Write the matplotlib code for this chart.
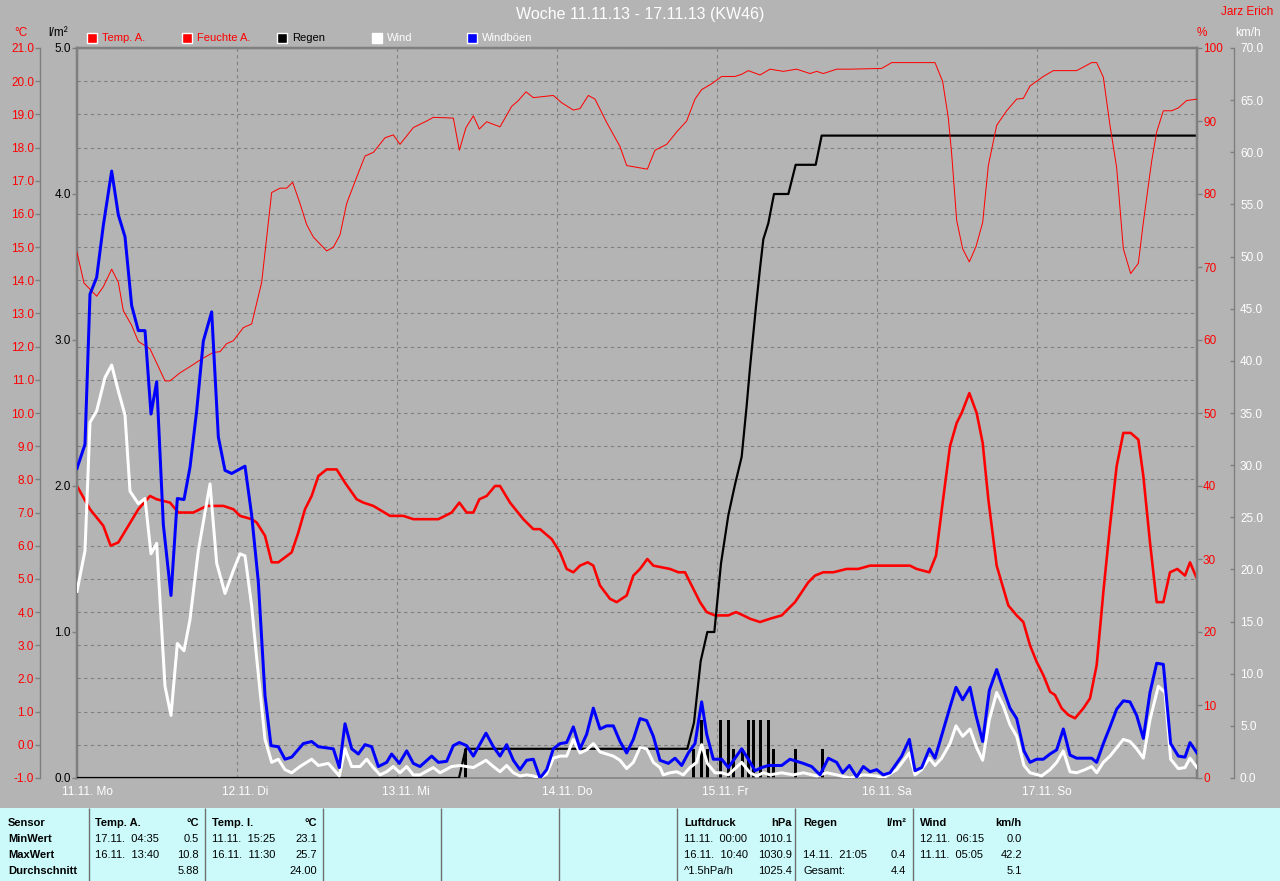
import matplotlib
matplotlib.use('Agg')
import matplotlib.pyplot as plt
import matplotlib.transforms as mtransforms
from matplotlib.patches import Rectangle

plt.rcParams['font.family'] = ['Liberation Sans', 'DejaVu Sans']

BG = '#b4b4b4'
GRID = '#7f7f7f'
TABLE_BG = '#ccfafa'
FS = 8
TICK_FS = 8.5

# hours since 11.11. 00:00
day_hours = [0, 24, 48, 72, 96, 120, 144]
day_labels = ['11.11. Mo', '12.11. Di', '13.11. Mi', '14.11. Do', '15.11. Fr', '16.11. Sa', '17.11. So']

temp_pts = [(0, 7.8), (1.95, 7.1), (3.95, 6.6), (5.05, 6.0), (6.2, 6.1), (7.7, 6.6), (9.2, 7.1),
            (10.95, 7.5), (11.95, 7.4), (13.95, 7.3), (15.2, 7.0), (17.45, 7.0), (19.45, 7.2),
            (21.95, 7.2), (23.45, 7.1), (24.45, 6.9), (26.2, 6.8), (26.95, 6.7), (28.2, 6.3),
            (29.2, 5.5), (30.2, 5.5), (32.2, 5.8), (33.2, 6.4), (34.2, 7.1), (35.2, 7.5), (36.2, 8.1),
            (37.45, 8.3), (38.95, 8.3), (40.2, 7.9), (41.95, 7.4), (42.95, 7.3), (44.45, 7.2),
            (46.95, 6.9), (48.95, 6.9), (50.45, 6.8), (52.45, 6.8), (54.2, 6.8), (56.2, 7.0),
            (57.35, 7.3), (58.45, 7.0), (59.45, 7.0), (60.35, 7.4), (61.45, 7.5), (62.7, 7.8),
            (63.45, 7.8), (64.95, 7.3), (66.95, 6.8), (68.45, 6.5), (69.45, 6.5), (71.2, 6.2),
            (72.45, 5.8), (73.45, 5.3), (74.45, 5.2), (75.45, 5.4), (76.6, 5.5), (77.45, 5.4),
            (78.45, 4.8), (79.95, 4.4), (80.95, 4.3), (82.45, 4.5), (83.45, 5.1), (84.45, 5.3),
            (85.55, 5.6), (86.45, 5.4), (88.95, 5.3), (90.2, 5.2), (91.2, 5.2), (92.2, 4.8),
            (93.45, 4.3), (94.45, 4.0), (95.7, 3.9), (96.7, 3.9), (97.7, 3.9), (98.85, 4.0),
            (99.95, 3.9), (100.95, 3.8), (102.45, 3.7), (103.95, 3.8), (105.7, 3.9), (106.7, 4.1),
            (107.7, 4.3), (108.7, 4.6), (109.7, 4.9), (110.7, 5.1), (111.95, 5.2), (113.45, 5.2),
            (115.45, 5.3), (117.2, 5.3), (118.95, 5.4), (120.95, 5.4), (122.95, 5.4), (124.95, 5.4),
            (125.95, 5.3), (127.85, 5.2), (128.85, 5.7), (129.85, 7.3), (130.95, 9.0), (131.95, 9.7),
            (132.7, 10.0), (133.85, 10.6), (134.95, 10.0), (135.85, 9.1), (136.7, 7.4), (137.95, 5.4),
            (139.7, 4.2), (140.95, 3.9), (141.95, 3.7), (142.95, 3.0), (143.95, 2.5), (144.95, 2.1),
            (145.95, 1.6), (146.7, 1.5), (147.7, 1.1), (148.7, 0.9), (149.7, 0.8), (150.95, 1.1),
            (151.95, 1.4), (152.95, 2.4), (153.95, 4.6), (154.95, 6.6), (155.95, 8.4), (156.95, 9.4),
            (158.05, 9.4), (159.2, 9.2), (159.95, 8.1), (160.95, 6.1), (161.95, 4.3), (162.95, 4.3),
            (163.95, 5.2), (165.05, 5.3), (166.2, 5.1), (166.95, 5.5), (168, 5.0)]

hum_pts = [(0, 72.0), (1.05, 67.8), (2.95, 66.0), (3.95, 67.3), (5.2, 69.7), (6.2, 67.9), (6.95, 64.0),
           (8.2, 62.0), (9.2, 59.8), (10.95, 58.8), (13.2, 54.4), (13.95, 54.4), (15.45, 55.5),
           (17.2, 56.5), (18.7, 57.4), (20.45, 58.3), (21.45, 58.4), (22.45, 59.5), (23.45, 59.9),
           (24.95, 61.7), (26.2, 62.2), (27.7, 67.9), (29.2, 80.2), (30.45, 80.8), (31.45, 80.8),
           (32.35, 81.6), (33.45, 78.7), (34.45, 75.8), (35.45, 74.1), (37.45, 72.2), (38.45, 72.7),
           (39.45, 74.4), (40.45, 78.7), (41.95, 82.3), (43.2, 85.2), (44.45, 85.7), (46.2, 87.7),
           (47.45, 88.1), (48.45, 86.8), (50.45, 89.1), (52.45, 90.0), (53.45, 90.5), (56.45, 90.4),
           (57.35, 86.0), (58.35, 89.1), (59.45, 90.7), (60.35, 88.9), (61.45, 89.9), (63.45, 89.2),
           (65.2, 92.0), (66.2, 92.8), (67.35, 94.0), (68.45, 93.2), (71.45, 93.5), (72.7, 92.5),
           (74.45, 91.5), (75.45, 91.7), (76.7, 93.5), (77.7, 93.0), (79.45, 89.8), (81.45, 86.5),
           (82.45, 83.9), (85.55, 83.4), (86.7, 86.0), (88.45, 86.8), (89.95, 88.5), (91.45, 90.0),
           (92.7, 93.0), (93.7, 94.3), (95.2, 95.1), (96.7, 96.1), (98.7, 96.1), (99.7, 96.4),
           (100.7, 96.9), (102.45, 96.3), (103.95, 97.1), (105.95, 96.8), (107.95, 97.1),
           (109.95, 96.5), (110.95, 96.8), (111.95, 96.5), (113.95, 97.1), (115.95, 97.1),
           (120.7, 97.2), (122.2, 98.0), (128.7, 98.0), (129.85, 95.4), (130.7, 90.4), (131.2, 85.5),
           (131.95, 76.4), (132.85, 72.5), (133.85, 70.7), (134.85, 72.8), (135.85, 76.1),
           (136.7, 83.9), (137.95, 89.4), (139.45, 91.4), (140.95, 93.0), (141.95, 93.1),
           (142.95, 94.8), (144.95, 96.1), (146.45, 96.9), (149.95, 96.9), (152.2, 98.0),
           (152.95, 98.0), (153.95, 96.0), (154.95, 89.4), (155.95, 83.6), (156.95, 72.5),
           (158.05, 69.1), (159.2, 70.5), (159.95, 76.1), (161.2, 84.5), (161.95, 88.5),
           (162.95, 91.4), (164.2, 91.4), (165.2, 91.8), (166.45, 92.8), (168, 93.0)]

gust_pts = [(0, 29.7), (1.2, 32.0), (1.95, 46.4), (2.95, 48.0), (3.95, 53.0), (5.2, 58.2), (6.2, 54.0),
            (7.2, 51.9), (8.2, 45.3), (9.2, 42.9), (10.2, 42.9), (11.1, 34.9), (11.95, 38.0),
            (12.95, 24.3), (14.1, 17.5), (15.05, 26.8), (16.05, 26.7), (16.95, 29.8), (17.95, 35.2),
            (18.95, 41.9), (20.2, 44.7), (21.2, 32.7), (22.2, 29.5), (23.2, 29.2), (25.2, 29.9),
            (26.2, 25.2), (27.2, 18.8), (28.2, 7.9), (29.1, 3.1), (30.2, 3.0), (31.2, 1.8), (32.2, 2.0),
            (33.95, 3.3), (35.2, 3.5), (36.2, 3.0), (38.45, 2.8), (39.35, 1.0), (40.2, 5.2), (41.2, 2.8),
            (42.2, 2.3), (43.2, 3.2), (44.2, 3.0), (45.2, 1.1), (46.45, 1.5), (47.2, 2.3), (48.35, 1.4),
            (49.45, 2.6), (50.45, 1.4), (51.45, 1.1), (53.2, 2.1), (54.2, 1.5), (55.45, 1.6),
            (56.45, 3.1), (57.35, 3.4), (58.45, 3.1), (59.45, 2.1), (61.35, 4.3), (62.45, 3.0),
            (63.45, 2.1), (64.45, 3.2), (65.45, 1.7), (66.45, 0.8), (67.45, 1.7), (68.45, 1.8),
            (69.45, 0.0), (70.45, 0.8), (71.45, 2.8), (72.45, 3.3), (73.45, 3.4), (74.45, 4.9),
            (75.45, 2.8), (76.45, 4.2), (77.45, 6.7), (78.45, 4.7), (79.45, 5.0), (80.45, 5.0),
            (81.45, 3.5), (82.45, 2.4), (83.45, 3.7), (84.45, 5.7), (85.45, 5.5), (86.45, 4.0),
            (87.45, 1.7), (88.7, 1.4), (89.7, 1.9), (90.7, 1.2), (91.7, 2.4), (92.7, 3.3), (93.7, 7.3),
            (94.45, 4.2), (95.45, 1.8), (96.7, 1.8), (97.7, 1.0), (98.7, 1.9), (99.7, 2.8), (100.7, 1.8),
            (101.7, 0.7), (102.7, 1.0), (103.7, 1.2), (105.7, 1.2), (106.95, 1.8), (108.95, 1.4),
            (110.2, 1.1), (111.45, 0.3), (112.7, 1.9), (113.95, 1.5), (114.85, 0.5), (115.85, 1.2),
            (116.95, 0.1), (117.95, 1.1), (118.95, 0.6), (119.95, 0.8), (120.95, 0.3), (121.95, 0.5),
            (123.7, 2.1), (124.85, 3.7), (125.7, 0.7), (126.7, 1.0), (127.85, 2.8), (128.7, 1.9),
            (129.85, 4.4), (130.95, 6.8), (131.85, 8.7), (132.85, 7.5), (133.95, 8.7), (134.85, 6.0),
            (135.85, 3.5), (136.85, 8.4), (137.95, 10.4), (138.95, 8.5), (139.95, 6.7), (140.95, 5.7),
            (142.05, 2.6), (142.95, 1.5), (143.95, 1.8), (144.95, 1.8), (145.95, 2.3), (146.95, 2.7),
            (147.95, 4.7), (148.95, 2.2), (149.95, 1.9), (151.2, 1.9), (152.2, 1.9), (152.95, 1.5),
            (153.95, 3.3), (154.95, 4.9), (155.95, 6.6), (156.95, 7.4), (157.95, 7.3), (158.95, 6.0),
            (159.95, 3.8), (160.95, 8.2), (161.95, 11.0), (162.95, 10.9), (164.05, 3.3), (165.2, 2.1),
            (166.2, 2.0), (166.95, 3.4), (168, 2.4)]

wind_pts = [(0, 17.9), (1.2, 21.8), (1.95, 34.1), (2.95, 35.2), (4.2, 38.4), (5.2, 39.6), (6.2, 37.1),
            (7.2, 34.8), (7.95, 27.5), (9.2, 26.3), (10.2, 26.8), (11.1, 21.5), (11.95, 22.5),
            (12.7, 14.2), (13.2, 8.8), (14.1, 6.0), (15.05, 12.9), (16.05, 12.2), (16.95, 15.2),
            (18.2, 21.8), (19.95, 28.2), (20.95, 20.6), (22.2, 17.7), (23.45, 19.9), (24.45, 21.5),
            (25.2, 21.3), (26.2, 16.5), (26.95, 11.5), (28.2, 3.7), (29.2, 1.5), (30.2, 1.8),
            (31.2, 0.8), (32.2, 0.5), (33.45, 1.1), (35.2, 1.8), (36.2, 1.2), (37.7, 1.4), (39.35, 0.2),
            (40.2, 2.8), (41.2, 1.1), (42.45, 1.1), (43.45, 1.8), (44.45, 1.0), (45.45, 0.3),
            (46.45, 0.6), (47.45, 1.1), (48.45, 0.5), (49.45, 1.1), (50.45, 0.3), (51.45, 0.3),
            (53.45, 1.0), (54.45, 0.5), (56.2, 1.1), (57.45, 1.2), (58.45, 1.1), (59.45, 1.0),
            (61.35, 1.7), (62.45, 1.1), (63.45, 0.6), (64.45, 1.2), (65.45, 0.5), (66.45, 0.2),
            (67.45, 0.3), (68.45, 0.2), (69.45, 0.0), (70.45, 0.4), (71.45, 1.9), (72.45, 2.1),
            (73.45, 2.1), (74.45, 3.7), (75.45, 2.4), (76.45, 2.7), (77.45, 3.3), (78.45, 2.5),
            (79.45, 2.3), (80.45, 2.1), (81.45, 1.7), (82.45, 0.9), (83.45, 1.5), (84.45, 2.9),
            (85.45, 2.8), (86.45, 1.5), (87.45, 1.0), (87.95, 0.3), (88.95, 0.5), (89.95, 0.6),
            (90.95, 0.3), (91.95, 1.0), (92.95, 1.5), (93.7, 3.2), (94.55, 1.4), (95.7, 0.5),
            (96.7, 0.5), (97.7, 0.3), (98.7, 0.9), (99.7, 1.5), (100.95, 0.5), (101.95, 0.2),
            (102.95, 0.5), (103.95, 0.3), (105.7, 0.5), (107.45, 0.3), (108.95, 0.5), (110.95, 0.2),
            (112.45, 0.5), (113.95, 0.3), (115.95, 0.0), (117.95, 0.3), (119.95, 0.2), (120.95, 0.0),
            (122.95, 0.8), (124.85, 2.4), (125.7, 0.3), (126.7, 0.8), (127.85, 1.9), (128.7, 1.2),
            (129.7, 1.9), (130.95, 3.3), (131.85, 5.0), (132.85, 4.0), (133.95, 4.7), (134.95, 2.9),
            (135.85, 1.7), (136.85, 5.6), (137.95, 8.2), (138.95, 6.9), (139.95, 5.1), (140.95, 4.0),
            (142.05, 1.2), (142.95, 0.5), (144.7, 0.2), (145.95, 0.8), (146.95, 1.5), (147.95, 2.6),
            (148.95, 0.6), (149.95, 0.5), (151.2, 0.8), (152.2, 1.1), (152.95, 0.5), (153.95, 1.5),
            (154.95, 2.1), (155.95, 2.9), (156.95, 3.7), (157.95, 3.5), (158.95, 2.8), (159.95, 1.9),
            (160.95, 5.6), (162.2, 8.8), (163.2, 8.2), (164.05, 1.8), (165.2, 0.9), (166.2, 1.0),
            (166.95, 1.9), (168, 1.0)]

rain_sum_pts = [(0, 0.0), (57.3, 0.0), (58.3, 0.2), (91.55, 0.2), (92.55, 0.38), (93.55, 0.8),
                (94.55, 1.0), (95.6, 1.0), (96.6, 1.47), (97.7, 1.8), (98.7, 2.01), (99.7, 2.2),
                (100.45, 2.55), (100.95, 2.81), (101.85, 3.23), (102.45, 3.49), (102.95, 3.69),
                (103.7, 3.8), (104.55, 4.0), (106.7, 4.0), (107.8, 4.2), (110.8, 4.2), (111.7, 4.4),
                (168, 4.4)]

rain_bar_hours = [58.35, 92.55, 93.6, 94.5, 96.6, 97.65, 98.55, 99.75, 100.65, 101.55, 102.6,
                  103.65, 104.55, 107.85, 111.75]
rain_bar_mm = [0.2, 0.2, 0.4, 0.2, 0.4, 0.4, 0.2, 0.2, 0.4, 0.4, 0.4, 0.4, 0.2, 0.2, 0.2]

legend_items = [('Temp. A.', 'red', 'red'), ('Feuchte A.', 'red', 'red'), ('Regen', 'black', 'black'),
                ('Wind', 'white', 'white'), ('Windböen', 'blue', 'white')]

table_cols = [
    # (left x, right x, header, unit, rows[(left, right)])
    (8, None, 'Sensor', '', [('MinWert', ''), ('MaxWert', ''), ('Durchschnitt', '')]),
    (95, 199, 'Temp. A.', '°C', [('17.11.  04:35', '0.5'), ('16.11.  13:40', '10.8'), ('', '5.88')]),
    (212, 317, 'Temp. I.', '°C', [('11.11.  15:25', '23.1'), ('16.11.  11:30', '25.7'), ('', '24.00')]),
    (684, 792, 'Luftdruck', 'hPa', [('11.11.  00:00', '1010.1'), ('16.11.  10:40', '1030.9'),
                                     ('^1.5hPa/h', '1025.4')]),
    (803, 906, 'Regen', 'l/m²', [('', ''), ('14.11.  21:05', '0.4'), ('Gesamt:', '4.4')]),
    (920, 1022, 'Wind', 'km/h', [('12.11.  06:15', '0.0'), ('11.11.  05:05', '42.2'), ('', '5.1')]),
]
table_lines = [89, 205, 323, 441, 559, 677, 795, 913]


def unzip(pts):
    return [p[0] for p in pts], [p[1] for p in pts]


W, H = 1280, 881
fig = plt.figure(figsize=(W / 100, H / 100), dpi=100, facecolor=BG)
ax_t = fig.add_axes([77 / W, 103 / H, 1120 / W, 730 / H], facecolor=BG)
ax_r = ax_t.twinx()
ax_h = ax_t.twinx()
ax_w = ax_t.twinx()

px = 72 / 100  # points per pixel

# temperature axis (offset left)
ax_t.set_xlim(0, 168)
ax_t.set_ylim(-1, 21)
ax_t.set_yticks(range(-1, 22))
ax_t.set_yticklabels([f'{v:.1f}' for v in range(-1, 22)])
for s in ['top', 'right', 'bottom']:
    ax_t.spines[s].set_visible(False)
ax_t.spines['left'].set_position(('outward', 37 * px))
ax_t.spines['left'].set_color(GRID)
ax_t.spines['left'].set_linewidth(1)
ax_t.tick_params(axis='y', direction='out', length=5 * px, width=1, color=GRID,
                 labelcolor='red', labelsize=TICK_FS, pad=1 * px)
ax_t.set_xticks(day_hours)
ax_t.set_xticklabels(day_labels)
ax_t.tick_params(axis='x', length=0, labelcolor='white', labelsize=TICK_FS, pad=8 * px)
shift = mtransforms.ScaledTranslation(-15 / 100, 0, fig.dpi_scale_trans)
for lbl in ax_t.get_xticklabels():
    lbl.set_ha('left')
    lbl.set_transform(lbl.get_transform() + shift)
ax_t.grid(True, color=GRID, linestyle=(0, (3, 3)), linewidth=0.8)

t_h, t_v = unzip(temp_pts)
ax_t.plot(t_h, t_v, color='#ff0000', lw=2.6 * px, zorder=3)

# rain axis (left, on plot frame)
ax_r.set_ylim(0, 5)
ax_r.set_yticks([0, 1, 2, 3, 4, 5])
ax_r.set_yticklabels([f'{v:.1f}' for v in range(0, 6)])
ax_r.yaxis.tick_left()
for s in ['left', 'top', 'bottom']:
    ax_r.spines[s].set_visible(True)
    ax_r.spines[s].set_color(GRID)
    ax_r.spines[s].set_linewidth(2.5 * px)
ax_r.spines['right'].set_visible(False)
ax_r.spines['bottom'].set_linewidth(1.5 * px)
ax_r.tick_params(axis='y', direction='out', length=5 * px, width=1, color=GRID,
                 labelcolor='black', labelsize=TICK_FS, pad=1 * px)
ax_r.bar(rain_bar_hours, rain_bar_mm, width=0.45, color='black', zorder=2)
ax_r.hlines(0, rain_bar_hours[0], 168, colors='black', linestyles=(0, (1, 2)), lw=1 * px)
r_h, r_v = unzip(rain_sum_pts)
ax_r.plot(r_h, r_v, color='black', lw=2.2 * px, zorder=3)

# humidity axis (right, on plot frame)
ax_h.set_ylim(0, 100)
ax_h.set_yticks(range(0, 101, 10))
for s in ['left', 'top', 'bottom']:
    ax_h.spines[s].set_visible(False)
ax_h.spines['right'].set_color(GRID)
ax_h.spines['right'].set_linewidth(2.5 * px)
ax_h.tick_params(axis='y', direction='out', length=5 * px, width=1, color=GRID,
                 labelcolor='red', labelsize=TICK_FS, pad=1 * px)
h_h, h_v = unzip(hum_pts)
ax_h.plot(h_h, h_v, color='#ff0000', lw=1 * px, zorder=3)

# wind axis (offset right)
ax_w.set_ylim(0, 70)
ax_w.set_yticks(range(0, 71, 5))
ax_w.set_yticklabels([f'{v:.1f}' for v in range(0, 71, 5)])
for s in ['left', 'top', 'bottom']:
    ax_w.spines[s].set_visible(False)
ax_w.spines['right'].set_position(('outward', 37 * px))
ax_w.spines['right'].set_color(GRID)
ax_w.spines['right'].set_linewidth(1)
ax_w.tick_params(axis='y', direction='in', length=4 * px, width=1, color=GRID,
                 labelcolor='white', labelsize=TICK_FS, pad=6 * px)
w_h, w_v = unzip(wind_pts)
g_h, g_v = unzip(gust_pts)
ax_w.plot(w_h, w_v, color='white', lw=3 * px, zorder=3)
ax_w.plot(g_h, g_v, color='#0000ff', lw=3 * px, zorder=4)

# overlay in pixel coordinates for titles, legend and statistics table
ov = fig.add_axes([0, 0, 1, 1], facecolor='none')
ov.set_xlim(0, W)
ov.set_ylim(H, 0)
ov.axis('off')

ov.text(640, 15, 'Woche 11.11.13 - 17.11.13 (KW46)', color='white', fontsize=11.5,
        ha='center', va='center')
ov.text(1273, 12, 'Jarz Erich', color='red', fontsize=TICK_FS, ha='right', va='center')
ov.text(21, 33, '°C', color='red', fontsize=TICK_FS, ha='center', va='center')
ov.text(58, 33, 'l/m²', color='black', fontsize=TICK_FS, ha='center', va='center')
ov.text(1202, 33, '%', color='red', fontsize=TICK_FS, ha='center', va='center')
ov.text(1248, 33, 'km/h', color='white', fontsize=TICK_FS, ha='center', va='center')

for i, (name, col, tcol) in enumerate(legend_items):
    x0 = 87 + i * 95
    ov.add_patch(Rectangle((x0, 33), 10, 10, facecolor=col, edgecolor='white', lw=1))
    ov.text(x0 + 15, 38, name, color=tcol, fontsize=FS, ha='left', va='center')

ov.add_patch(Rectangle((0, 808), W, H - 808, facecolor=TABLE_BG, edgecolor='none'))
ov.vlines(table_lines, 808, H, colors='#707070', lw=1)
row_y = [823, 839, 855, 871]
for left, right, head, unit, rows in table_cols:
    ov.text(left, row_y[0], head, fontsize=FS, fontweight='bold', ha='left', va='center')
    if right is not None:
        ov.text(right, row_y[0], unit, fontsize=FS, fontweight='bold', ha='right', va='center')
    for (ltxt, rtxt), y in zip(rows, row_y[1:]):
        if right is None:
            ov.text(left, y, ltxt, fontsize=FS, fontweight='bold', ha='left', va='center')
        else:
            ov.text(left, y, ltxt, fontsize=FS, ha='left', va='center')
            ov.text(right, y, rtxt, fontsize=FS, ha='right', va='center')

fig.savefig('out.png', dpi=100, facecolor=BG)
